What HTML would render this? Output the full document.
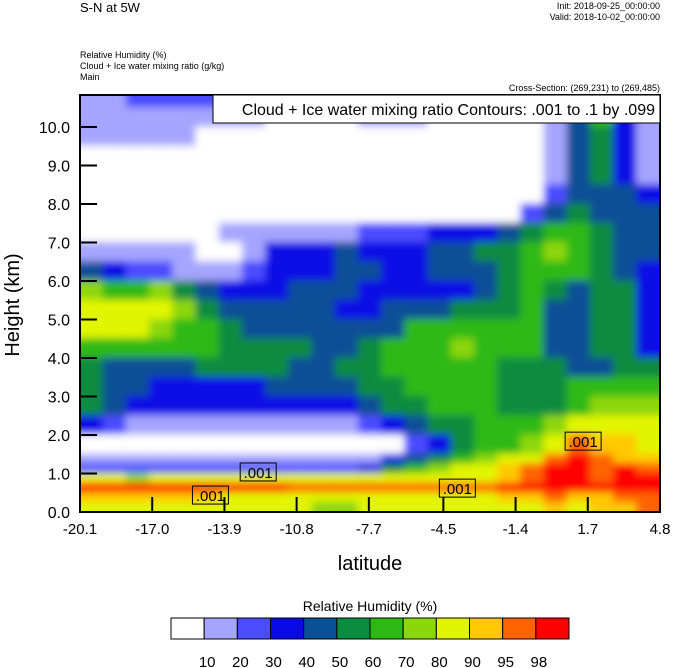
<!DOCTYPE html>
<html><head><meta charset="utf-8">
<style>
body{margin:0;background:#fff;width:674px;height:668px;overflow:hidden;font-family:"Liberation Sans",sans-serif;}
svg{display:block}
</style></head><body>
<svg id="chart" width="674" height="668" viewBox="0 0 674 668">
<defs>
<clipPath id="plotclip"><rect x="80" y="95" width="580" height="417"/></clipPath>
<filter id="soft" filterUnits="userSpaceOnUse" x="60" y="80" width="620" height="450"><feGaussianBlur stdDeviation="4"/></filter>
</defs>
<text x="80" y="12" font-size="13">S-N at 5W</text>
<text x="660" y="9" font-size="9" text-anchor="end">Init: 2018-09-25_00:00:00</text>
<text x="660" y="20" font-size="9" text-anchor="end">Valid: 2018-10-02_00:00:00</text>
<text x="80" y="58" font-size="9">Relative Humidity   (%)</text>
<text x="80" y="69" font-size="9">Cloud + Ice water mixing ratio   (g/kg)</text>
<text x="80" y="80" font-size="9">Main</text>
<text x="660" y="91" font-size="9" text-anchor="end">Cross-Section: (269,231) to (269,485)</text>
<g clip-path="url(#plotclip)"><g id="cells" filter="url(#soft)"></g></g>
<g id="contours" clip-path="url(#plotclip)"></g>
<rect x="80" y="95" width="580" height="417" fill="none" stroke="#000" stroke-width="2"/>
<g id="axes"></g>
<rect x="213" y="95" width="447" height="28" fill="#fff" stroke="#000" stroke-width="1"/>
<text x="655" y="115" font-size="16" text-anchor="end">Cloud + Ice water mixing ratio Contours: .001 to .1 by .099</text>
<text transform="translate(19,305) rotate(-90)" font-size="20" text-anchor="middle">Height (km)</text>
<text x="370" y="570" font-size="20" text-anchor="middle">latitude</text>
<text x="370" y="611" font-size="14" text-anchor="middle">Relative Humidity  (%)</text>
<g id="cbar"></g>
</svg>
<script>
const colors=["#ffffff","#a5a5ff","#4b4bff","#0a0ae6","#0a5096","#0a8c41","#2db914","#8cd70a","#e1f500","#ffc800","#ff6400","#ff0000"];
const cbarLabels=["10","20","30","40","50","60","70","80","90","95","98"];
const xTickLabels=["-20.1","-17.0","-13.9","-10.8","-7.7","-4.5","-1.4","1.7","4.8"];
const yTickValues=[0,1,2,3,4,5,6,7,8,9,10];
const heights=[10.75,10.25,9.75,9.25,8.75,8.25,7.75,7.25,6.75,6.25,5.75,5.25,4.75,4.25,3.75,3.25,2.75,2.25,1.75,1.375,1.125,0.875,0.625,0.375,0.125];
const rowHeights=[0.5,0.5,0.5,0.5,0.5,0.5,0.5,0.5,0.5,0.5,0.5,0.5,0.5,0.5,0.5,0.5,0.5,0.5,0.5,0.25,0.25,0.25,0.25,0.25,0.25];
const rhClass=[
[1,1,2,2,2,2,1,1,1,1,1,1,1,0,0,0,0,0,0,0,1,3,4,2,1],
[1,1,1,1,1,1,1,1,0,0,0,0,1,1,1,0,0,0,0,0,1,4,6,3,1],
[1,1,1,1,1,0,0,0,0,0,0,0,0,0,0,0,0,0,0,0,1,4,5,3,1],
[0,0,0,0,0,0,0,0,0,0,0,0,0,0,0,0,0,0,0,0,1,4,5,3,1],
[0,0,0,0,0,0,0,0,0,0,0,0,0,0,0,0,0,0,0,0,1,4,5,3,1],
[0,0,0,0,0,0,0,0,0,0,0,0,0,0,0,0,0,0,0,0,2,4,4,4,3],
[0,0,0,0,0,0,0,0,0,0,0,0,0,0,0,0,0,0,0,2,4,5,4,4,4],
[0,0,0,0,0,0,1,1,1,1,1,1,2,2,2,3,3,3,4,5,6,6,5,4,4],
[1,1,1,1,1,0,0,1,3,3,3,4,3,3,3,4,4,5,5,6,7,6,5,4,4],
[4,3,2,2,1,1,1,2,3,3,3,4,4,3,3,4,4,4,5,6,6,6,5,4,3],
[7,6,6,7,5,4,3,3,3,4,4,4,3,3,3,3,3,4,5,6,5,4,5,5,3],
[8,8,8,8,7,5,4,4,4,4,4,3,3,4,4,4,5,5,5,6,4,4,5,5,3],
[8,8,8,7,6,6,5,4,4,4,4,4,4,4,6,6,6,6,6,6,4,4,5,5,3],
[6,6,6,6,6,6,5,5,5,5,4,4,5,6,6,6,7,6,6,6,4,4,5,5,3],
[5,4,4,4,4,5,5,5,5,4,4,5,5,6,6,6,6,6,5,5,5,4,4,5,5],
[5,4,4,3,3,3,3,3,4,4,4,4,5,5,6,6,6,6,5,5,5,6,6,6,6],
[5,4,3,3,3,3,3,3,3,3,3,3,4,5,5,6,6,6,5,5,5,6,7,7,7],
[3,2,1,1,1,1,1,1,1,1,1,1,2,3,4,5,5,6,6,6,7,8,8,8,8],
[0,0,0,0,0,0,0,0,0,0,0,0,0,0,2,3,5,6,6,7,8,10,9,9,8],
[1,1,1,1,1,1,1,1,1,1,1,1,1,3,4,5,6,7,8,8,10,11,10,9,9],
[2,2,2,2,2,2,2,2,2,2,2,2,3,5,6,7,8,8,9,10,11,11,10,11,10],
[8,8,7,8,8,8,8,8,8,8,8,8,8,8,8,8,8,8,9,10,11,11,10,11,11],
[11,11,11,11,11,11,11,11,11,10,10,10,10,10,10,10,10,10,11,11,11,11,11,11,11],
[9,9,9,9,9,9,8,8,8,8,8,8,8,8,8,8,8,8,9,9,10,9,9,10,10],
[8,8,8,8,8,8,8,8,8,8,7,7,8,8,8,8,8,8,8,8,9,8,9,9,10]];
const latMin=-20.1, latMax=4.8, nCols=25;
const cloudLabels=[{lat:-14.5,h:0.44,t:".001"},{lat:-12.45,h:1.04,t:".001"},{lat:-3.9,h:0.62,t:".001"},{lat:1.5,h:1.84,t:".001"}];
const NS="http://www.w3.org/2000/svg";
function xS(lat){return 80+(lat-latMin)/(latMax-latMin)*580;}
function yS(h){return 512-h*38.5;}
function mk(tag,attrs,parent){const e=document.createElementNS(NS,tag);for(const k in attrs)e.setAttribute(k,attrs[k]);parent.appendChild(e);return e;}
const cells=document.getElementById('cells');
mk('rect',{x:60,y:80,width:620,height:450,fill:"#ffffff"},cells);
const dLat=(latMax-latMin)/nCols;
heights.forEach((h,ri)=>{const rh=rowHeights[ri];rhClass[ri].forEach((c,ci)=>{
  let x0=xS(latMin+ci*dLat)-0.5,x1=xS(latMin+(ci+1)*dLat)+0.5;
  if(ci===0)x0-=20; if(ci===nCols-1)x1+=20;
  let y0=yS(h+rh/2)-0.5,y1=yS(h-rh/2)+0.5;
  if(ri===0)y0-=20; if(ri===heights.length-1)y1+=20;
  const r=mk('rect',{x:x0,y:y0,width:x1-x0,height:y1-y0,fill:colors[c]},cells);
  
  
});});
const cont=document.getElementById('contours');
cloudLabels.forEach(l=>{
  const g=mk('g',{},cont);
  
  
  const x=xS(l.lat),y=yS(l.h);
  mk('rect',{x:x-18,y:y-9,width:36,height:18,fill:"none",stroke:"#000","stroke-width":1},g);
  const t=mk('text',{x:x,y:y+6,"font-size":15,"text-anchor":"middle"},g);t.textContent=l.t;
});
const axes=document.getElementById('axes');
xTickLabels.forEach(lb=>{
  const x=xS(parseFloat(lb));
  const tk=mk('line',{x1:x,x2:x,y1:512,y2:497,stroke:"#000","stroke-width":2},axes);
  
  
  const t=mk('text',{x:x,y:534,"font-size":15,"text-anchor":"middle"},axes);t.textContent=lb;
  
  
});
yTickValues.forEach(v=>{
  const y=yS(v);
  const tk=mk('line',{x1:80,x2:97,y1:y,y2:y,stroke:"#000","stroke-width":2},axes);
  
  
  const t=mk('text',{x:70,y:y+6,"font-size":16,"text-anchor":"end"},axes);t.textContent=v.toFixed(1);
  
  
});
const cb=document.getElementById('cbar');
const cbW=(569-171)/colors.length;
colors.forEach((c,i)=>{
  const r=mk('rect',{x:171+i*cbW,y:618,width:cbW,height:21,fill:c,stroke:"#000","stroke-width":1},cb);
  
  
});
cbarLabels.forEach((lb,i)=>{
  const t=mk('text',{x:171+(i+1)*cbW+3,y:667,"font-size":15,"text-anchor":"middle"},cb);t.textContent=lb;
  
  
});
</script>
</body></html>
